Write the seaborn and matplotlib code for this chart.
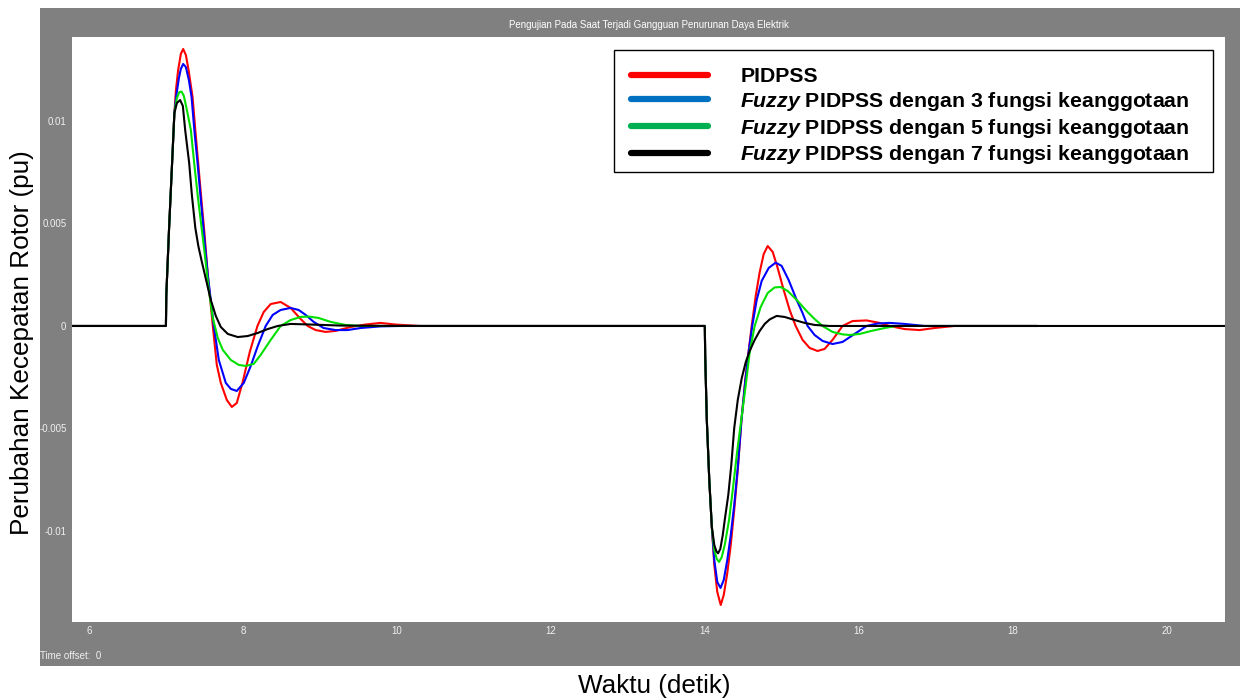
import matplotlib
matplotlib.use("Agg")
import matplotlib.pyplot as plt
from matplotlib.lines import Line2D
from matplotlib.patches import Rectangle
import pandas as pd
import seaborn as sns

# ---- data: rotor speed deviation (pu) versus time (s) ----
waktu_pidpss = [5.78, 7.000, 7.005, 7.04, 7.07, 7.11, 7.130, 7.159, 7.194, 7.224, 7.259, 7.294, 7.346,
                7.382, 7.419, 7.458, 7.497, 7.544, 7.609, 7.661, 7.713, 7.791, 7.856, 7.920, 7.994, 8.089,
                8.189, 8.270, 8.361, 8.490, 8.620, 8.750, 8.841, 8.945, 9.074, 9.204, 9.398, 9.593, 9.787,
                9.981, 10.306, 14.000, 14.005, 14.026, 14.058, 14.091, 14.123, 14.162, 14.207, 14.246,
                14.292, 14.337, 14.382, 14.428, 14.476, 14.525, 14.571, 14.609, 14.661, 14.713, 14.765,
                14.817, 14.882, 14.946, 15.024, 15.102, 15.180, 15.270, 15.361, 15.464, 15.556, 15.659,
                15.789, 15.919, 16.101, 16.270, 16.400, 16.594, 16.789, 16.983, 17.241, 18.32]
dw_pidpss = [0, 0, 0.0015, 0.00468, 0.00712, 0.01039, 0.01151, 0.01249, 0.01327, 0.01351, 0.01322, 0.01249,
             0.01117, 0.00956, 0.00795, 0.00629, 0.00468, 0.00249, 0, -0.0019, -0.00278, -0.00361, -0.00395,
             -0.00376, -0.00278, -0.00127, 0, 0.00068, 0.00107, 0.00117, 0.00088, 0.00034, 0, -0.0002,
             -0.00029, -0.00024, -0.00005, 0.00007, 0.00015, 0.00007, 0, 0, -0.00146, -0.00459, -0.00751,
             -0.0098, -0.01166, -0.01298, -0.01361, -0.01312, -0.01205, -0.01068, -0.00898, -0.00702,
             -0.00459, -0.00263, -0.00117, 0, 0.00146, 0.00263, 0.00351, 0.0039, 0.00361, 0.00283, 0.00176,
             0.00078, 0, -0.00068, -0.00107, -0.00122, -0.00112, -0.00068, 0, 0.00024, 0.00027, 0.00015, 0,
             -0.00015, -0.0002, -0.0001, 0, 0]

waktu_fuzzy3 = [5.78, 7.000, 7.005, 7.04, 7.07, 7.11, 7.136, 7.169, 7.194, 7.224, 7.259, 7.298, 7.333,
                7.369, 7.411, 7.450, 7.489, 7.544, 7.622, 7.687, 7.778, 7.843, 7.920, 8.011, 8.102, 8.193,
                8.296, 8.387, 8.490, 8.620, 8.724, 8.815, 8.919, 9.048, 9.204, 9.359, 9.528, 9.787, 10.047,
                14.000, 14.005, 14.026, 14.058, 14.091, 14.123, 14.162, 14.204, 14.246, 14.292, 14.337,
                14.382, 14.428, 14.476, 14.525, 14.571, 14.616, 14.674, 14.739, 14.830, 14.920, 14.998,
                15.089, 15.193, 15.270, 15.335, 15.426, 15.530, 15.659, 15.789, 15.945, 16.101, 16.244,
                16.400, 16.594, 16.853, 18.32]
dw_fuzzy3 = [0, 0, 0.0015, 0.00468, 0.00712, 0.01039, 0.01127, 0.0121, 0.01254, 0.01278, 0.01263, 0.012,
             0.01117, 0.00956, 0.00795, 0.00629, 0.00468, 0.00249, 0, -0.00166, -0.00278, -0.00307, -0.00317,
             -0.00278, -0.00195, -0.00098, 0, 0.00054, 0.00078, 0.00088, 0.00078, 0.00054, 0.0002, -0.0001,
             -0.0002, -0.0002, -0.0001, -0.00002, 0, 0, -0.00146, -0.00459, -0.00751, -0.0098, -0.01141,
             -0.01249, -0.01278, -0.01239, -0.01141, -0.0102, -0.00873, -0.00693, -0.00459, -0.00273,
             -0.00122, 0, 0.00127, 0.0022, 0.00283, 0.00309, 0.00293, 0.00224, 0.00127, 0.00063, 0,
             -0.00044, -0.00073, -0.00088, -0.00078, -0.00039, 0, 0.00012, 0.00015, 0.0001, 0, 0]

waktu_fuzzy5 = [5.78, 7.000, 7.005, 7.04, 7.07, 7.11, 7.143, 7.175, 7.204, 7.233, 7.272, 7.324, 7.367,
                7.415, 7.467, 7.506, 7.557, 7.609, 7.674, 7.739, 7.843, 7.946, 8.037, 8.141, 8.231, 8.361,
                8.490, 8.620, 8.750, 8.854, 8.983, 9.139, 9.333, 9.528, 14.000, 14.005, 14.026, 14.058,
                14.091, 14.123, 14.156, 14.185, 14.220, 14.259, 14.315, 14.363, 14.415, 14.473, 14.532,
                14.583, 14.648, 14.726, 14.817, 14.907, 14.985, 15.076, 15.193, 15.322, 15.426, 15.529,
                15.659, 15.789, 15.880, 16.010, 16.166, 16.335, 16.490, 18.32]
dw_fuzzy5 = [0, 0, 0.0015, 0.00468, 0.00712, 0.01039, 0.01112, 0.01141, 0.01143, 0.01122, 0.01054, 0.00956,
             0.00795, 0.00629, 0.00468, 0.00346, 0.00176, 0.00039, -0.00059, -0.00117, -0.00166, -0.0019,
             -0.00195, -0.00185, -0.00141, -0.00068, 0, 0.00029, 0.00044, 0.00046, 0.00039, 0.0002, 0.00005,
             0, 0, -0.00146, -0.00459, -0.00751, -0.0098, -0.01093, -0.01137, -0.01151, -0.01127, -0.01068,
             -0.00946, -0.008, -0.00629, -0.00459, -0.00288, -0.00127, 0, 0.00093, 0.00161, 0.00188, 0.0019,
             0.00171, 0.00127, 0.00073, 0.00034, 0, -0.00029, -0.00041, -0.00044, -0.00039, -0.00024,
             -0.0001, 0, 0]

waktu_fuzzy7 = [5.78, 7.000, 7.005, 7.04, 7.07, 7.11, 7.143, 7.185, 7.220, 7.250, 7.302, 7.337, 7.382,
                7.421, 7.467, 7.519, 7.583, 7.648, 7.713, 7.804, 7.933, 8.063, 8.193, 8.322, 8.452, 8.620,
                8.880, 9.269, 10.05, 14.000, 14.005, 14.026, 14.058, 14.091, 14.123, 14.149, 14.172,
                14.201, 14.233, 14.259, 14.305, 14.344, 14.382, 14.428, 14.480, 14.532, 14.583, 14.648,
                14.713, 14.778, 14.843, 14.933, 15.037, 15.167, 15.296, 15.426, 15.620, 20.76]
dw_fuzzy7 = [0, 0, 0.0015, 0.00468, 0.00712, 0.01039, 0.01088, 0.01102, 0.01073, 0.00956, 0.00795, 0.00639,
             0.00478, 0.0039, 0.00312, 0.00229, 0.00127, 0.00049, -0.00005, -0.00039, -0.00054, -0.00049,
             -0.00034, -0.00015, 0, 0.0001, 0.00007, 0.00002, 0, 0, -0.00146, -0.00459, -0.00751, -0.0098,
             -0.01068, -0.01098, -0.01109, -0.01088, -0.0102, -0.00946, -0.00824, -0.00678, -0.00498,
             -0.00361, -0.00254, -0.00176, -0.00122, -0.00068, -0.00024, 0.0001, 0.00032, 0.00049, 0.00044,
             0.00029, 0.00015, 0.00005, 0, 0]

series_names = ["PIDPSS", "Fuzzy3", "Fuzzy5", "Fuzzy7"]
line_colors = {"PIDPSS": "#ff0000", "Fuzzy3": "#0000ff", "Fuzzy5": "#00e000", "Fuzzy7": "#000000"}
legend_colors = ["#ff0000", "#0070c0", "#00b050", "#000000"]
legend_labels = [
    "PIDPSS",
    r"$\mathbfit{Fuzzy}$ PIDPSS dengan 3 fungsi keanggotaan",
    r"$\mathbfit{Fuzzy}$ PIDPSS dengan 5 fungsi keanggotaan",
    r"$\mathbfit{Fuzzy}$ PIDPSS dengan 7 fungsi keanggotaan",
]
x_ticks = [6, 8, 10, 12, 14, 16, 18, 20]
y_ticks = [-0.01, -0.005, 0, 0.005, 0.01]
y_ticklabels = ["-0.01", "-0.005", "0", "0.005", "0.01"]

frames = []
for name, t, w in [("PIDPSS", waktu_pidpss, dw_pidpss), ("Fuzzy3", waktu_fuzzy3, dw_fuzzy3),
                   ("Fuzzy5", waktu_fuzzy5, dw_fuzzy5), ("Fuzzy7", waktu_fuzzy7, dw_fuzzy7)]:
    frames.append(pd.DataFrame({"waktu": t, "dw": w, "seri": name}))
df = pd.concat(frames, ignore_index=True)

# ---- styling ----
sns.set_style("white")
plt.rcParams["font.family"] = ["Liberation Sans", "DejaVu Sans"]
plt.rcParams["mathtext.fontset"] = "custom"
plt.rcParams["mathtext.rm"] = "Liberation Sans"
plt.rcParams["mathtext.it"] = "Liberation Sans:italic"
plt.rcParams["mathtext.bf"] = "Liberation Sans:bold"
plt.rcParams["mathtext.bfit"] = "Liberation Sans:italic:bold"

W, H = 1242, 700
fig = plt.figure(figsize=(W / 100, H / 100), dpi=100)
fig.patch.set_facecolor("white")

# grey scope frame behind the plotting area
fig.patches.append(Rectangle((40 / W, 1 - 666 / H), (1240 - 40) / W, (666 - 8) / H,
                             transform=fig.transFigure, facecolor="#808080", edgecolor="none",
                             zorder=-10))

ax = fig.add_axes([72 / W, 1 - 622 / H, (1225 - 72) / W, (622 - 36.5) / H])
ax.set_zorder(1)
ax.set_facecolor("white")

sns.lineplot(data=df, x="waktu", y="dw", hue="seri", hue_order=series_names, palette=line_colors,
             estimator=None, sort=False, legend=False, linewidth=1.5, ax=ax)

ax.set_xlim(5.78, 20.757)
ax.set_ylim(-0.01444, 0.01412)
ax.set_xticks(x_ticks)
ax.set_xticklabels([str(v) for v in x_ticks])
ax.set_yticks(y_ticks)
ax.set_yticklabels(y_ticklabels)
ax.tick_params(axis="both", length=0, colors="#f0f0f0", labelsize=7)
ax.tick_params(axis="y", pad=4)
ax.tick_params(axis="x", pad=3)
ax.set_xlabel("")
ax.set_ylabel("")
for s in ax.spines.values():
    s.set_visible(False)

fig.text(648.5 / W, 1 - 25 / H, "Pengujian Pada Saat Terjadi Gangguan Penurunan Daya Elektrik",
         ha="center", va="center", color="white", fontsize=7)
fig.text(40 / W, 1 - 656 / H, "Time offset:  0", ha="left", va="center", color="#f0f0f0", fontsize=7)

fig.text(22 / W, 1 - 343 / H, "Perubahan Kecepatan Rotor (pu)", rotation=90, ha="center", va="center",
         fontsize=18.8, color="black")
fig.text(654 / W, 1 - 686 / H, "Waktu (detik)", ha="center", va="center", fontsize=18.8, color="black")

# legend box with its own border
box = Rectangle((614 / W, 1 - 172 / H), (1213 - 614) / W, (172 - 50) / H, transform=fig.transFigure,
                facecolor="white", edgecolor="black", linewidth=1.0, zorder=5)
fig.patches.append(box)

handles = [Line2D([], [], color=c, lw=4.5, solid_capstyle="round") for c in legend_colors]
leg = fig.legend(handles, legend_labels, loc="upper left", bbox_to_anchor=(631 / W, 1 - 67 / H),
                 bbox_transform=fig.transFigure, prop={"weight": "bold", "size": 15.3},
                 frameon=False, handlelength=3.6, handletextpad=1.55, labelspacing=0.18,
                 borderpad=0, borderaxespad=0)
leg.set_zorder(6)
for txt in leg.get_texts():
    txt.set_color("black")

fig.savefig("out.png", dpi=100)
